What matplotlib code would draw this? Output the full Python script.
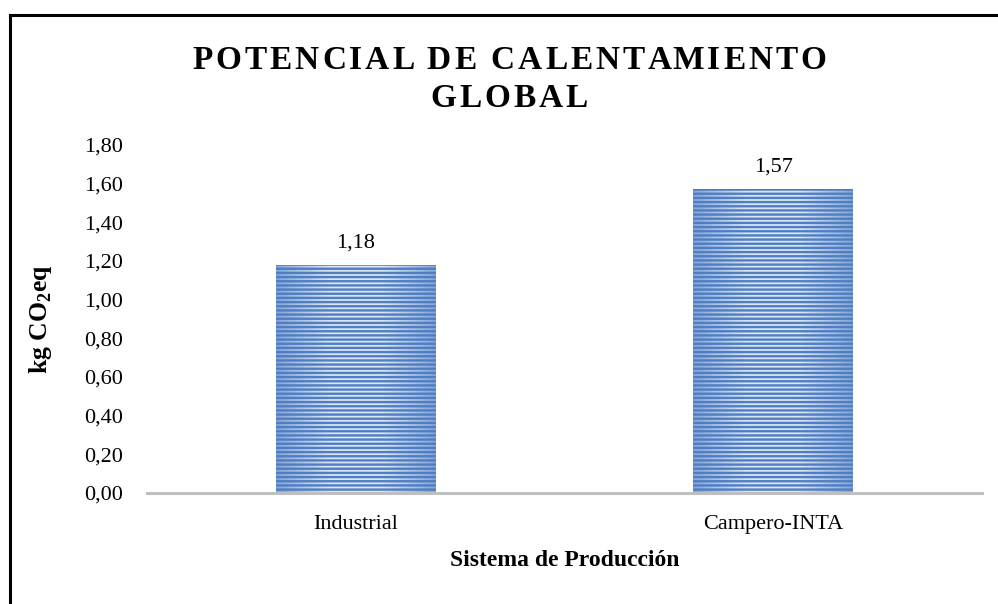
import matplotlib
matplotlib.use("Agg")
import numpy as np
from matplotlib import pyplot as plt
from matplotlib.lines import Line2D
from matplotlib.colors import LinearSegmentedColormap

plt.rcParams['font.family'] = 'Liberation Serif'
plt.rcParams['mathtext.fontset'] = 'custom'
plt.rcParams['mathtext.rm'] = 'Liberation Serif'
plt.rcParams['mathtext.bf'] = 'Liberation Serif:bold'
plt.rcParams['hatch.linewidth'] = 1.7
plt.rcParams['hatch.color'] = '#4f7ec2'

categories = ['Industrial', 'Campero-INTA']
values = [1.18, 1.57]
value_labels = ['1,18', '1,57']
yticks = [0.0, 0.2, 0.4, 0.6, 0.8, 1.0, 1.2, 1.4, 1.6, 1.8]
ytick_labels = ['0,00', '0,20', '0,40', '0,60', '0,80', '1,00', '1,20', '1,40', '1,60', '1,80']
title_lines = ['POTENCIAL DE CALENTAMIENTO', 'GLOBAL']

W, H = 998, 604
fig = plt.figure(figsize=(W / 100, H / 100), dpi=100)
ax = fig.add_axes([147 / W, 1 - 493 / H, (982 - 147) / W, (493 - 145) / H])

x = range(len(categories))
bars = ax.bar(x, values, width=0.383, facecolor='none', edgecolor='#4f7ec2',
              linewidth=0, hatch='----', zorder=3)

# light-in-the-middle fill behind the stripes
shade = LinearSegmentedColormap.from_list('shade', ['#86a7d8', '#dbe6f6', '#dbe6f6', '#86a7d8'])
grad = np.linspace(0, 1, 200)[None, :]
for b in bars:
    im = ax.imshow(grad, cmap=shade, aspect='auto', zorder=2,
                   extent=[b.get_x(), b.get_x() + b.get_width(), 0, b.get_height()])
    im.set_clip_path(b)

for xi, v, lab in zip(x, values, value_labels):
    ax.annotate(lab, (xi, v), xytext=(0, 9), textcoords='offset points',
                ha='center', va='bottom', fontsize=16)

ax.set_xlim(-0.5, len(categories) - 0.5)
ax.set_ylim(0, 1.8)
ax.set_yticks(yticks)
ax.set_yticklabels(ytick_labels, fontsize=16)
ax.set_xticks(list(x))
ax.set_xticklabels(categories, fontsize=16)
ax.tick_params(axis='both', length=0)
ax.tick_params(axis='y', pad=17)
ax.tick_params(axis='x', pad=16)
for s in ['top', 'right', 'left']:
    ax.spines[s].set_visible(False)
ax.spines['bottom'].set_color('#bfbfbf')
ax.spines['bottom'].set_linewidth(2.2)
ax.spines['bottom'].set_zorder(4)

ax.set_xlabel('Sistema de Producción', fontsize=17, fontweight='bold', va='center')
ax.xaxis.set_label_coords(0.5, -(560 - 493) / (493 - 145))
ax.set_ylabel(r'kg CO$_\mathbf{2}$eq', fontsize=18.5, fontweight='bold', va='center')
ax.yaxis.set_label_coords(-(147 - 40) / (982 - 147), 0.5)


# title with letter spacing, each line centred
def spaced_line(text, yc, size, target_w=None, spacing=None):
    r = fig.canvas.get_renderer()

    def width(s):
        t = fig.text(0, 0, s, fontsize=size, fontweight='bold')
        w = t.get_window_extent(r).width
        t.remove()
        return w

    wI = width('I')
    lefts = [width(text[:i] + 'I') - wI if i else 0.0 for i in range(len(text))]
    natural = width(text)
    if spacing is None:
        spacing = (target_w - natural) / (len(text) - 1)
    total = natural + spacing * (len(text) - 1)
    x0 = 509 - total / 2
    for i, ch in enumerate(text):
        if ch == ' ':
            continue
        fig.text((x0 + lefts[i] + i * spacing) / W, 1 - yc / H, ch,
                 fontsize=size, fontweight='bold', ha='left', va='baseline')
    return spacing


sp = spaced_line(title_lines[0], 69, 24, target_w=634)
spaced_line(title_lines[1], 107, 24, spacing=sp)

# frame around the chart (top and left only visible)
fig.add_artist(Line2D([10 / W, 1], [1 - 15 / H, 1 - 15 / H], color='black', lw=2.2))
fig.add_artist(Line2D([10 / W, 10 / W], [0, 1 - 15 / H], color='black', lw=2.2))

fig.savefig('out.png', dpi=100)
